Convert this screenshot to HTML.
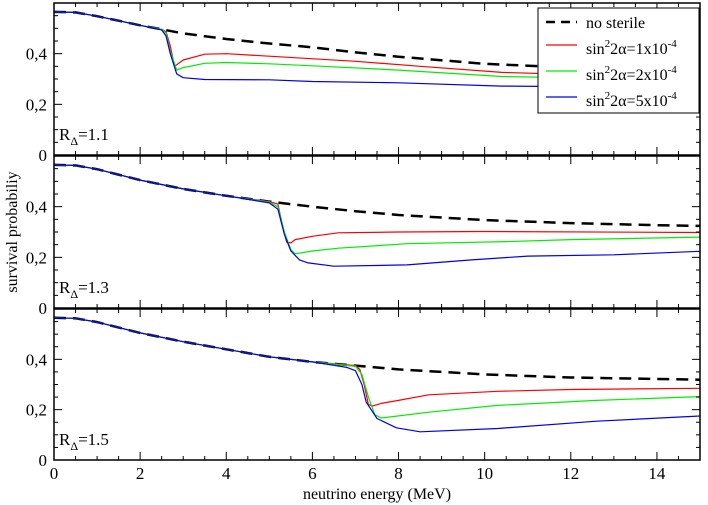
<!DOCTYPE html>
<html><head><meta charset="utf-8"><style>
body{margin:0;background:#fff}
svg text{font-family:"Liberation Serif","DejaVu Serif",serif !important;fill:#000}
</style></head><body>
<svg id="chart" width="708" height="505" xmlns="http://www.w3.org/2000/svg" style="position:absolute;left:0;top:0"></svg>
<script>
// ---------- data ----------
const xTicks = [0,2,4,6,8,10,12,14];
const yTicks = [0,0.2,0.4];
const yTickLabels = ["0","0,2","0,4"];
const panelLabels = ["1.1","1.3","1.5"];
const seriesNames = ["no sterile","sin2a-1e-4","sin2a-2e-4","sin2a-5e-4"];
const seriesColors = ["#000","#ff0000","#00ee00","#0000ee"];

const p1BlackE = [0,0.5,1,1.5,2,2.5,3,4,5,6,7,8,10,12,14,15];
const p1BlackV = [0.565,0.563,0.548,0.53,0.512,0.496,0.48,0.458,0.44,0.425,0.405,0.388,0.36,0.345,0.336,0.333];
const p1RedE = [0,0.5,1,1.5,2,2.5,2.6,2.7,2.8,3,3.5,4,5,7,8.5,10.4,12,15];
const p1RedV = [0.565,0.563,0.548,0.53,0.512,0.496,0.487,0.43,0.35,0.375,0.398,0.4,0.39,0.37,0.35,0.326,0.318,0.31];
const p1GreenE = [0,0.5,1,1.5,2,2.5,2.6,2.7,2.85,3,3.5,4,5,6,8,10.4,12,15];
const p1GreenV = [0.565,0.563,0.548,0.53,0.512,0.496,0.482,0.41,0.335,0.345,0.362,0.365,0.36,0.352,0.335,0.31,0.305,0.3];
const p1BlueE = [0,0.5,1,1.5,2,2.5,2.6,2.7,2.85,3,3.5,5,6,8,10.4,12,15];
const p1BlueV = [0.565,0.563,0.548,0.53,0.512,0.494,0.47,0.4,0.32,0.305,0.298,0.297,0.29,0.285,0.272,0.27,0.268];

const p2BlackE = [0,0.5,1,2,3,4,5,6,7,8,10,12,14,15];
const p2BlackV = [0.565,0.563,0.548,0.505,0.47,0.443,0.42,0.4,0.382,0.367,0.347,0.335,0.327,0.324];
const p2RedE = [0,0.5,1,2,3,4,5,5.2,5.3,5.4,5.5,5.6,6,6.6,8,10,15];
const p2RedV = [0.565,0.563,0.548,0.505,0.47,0.443,0.42,0.41,0.33,0.26,0.257,0.27,0.283,0.297,0.3,0.302,0.298];
const p2GreenE = [0,0.5,1,2,3,4,5,5.2,5.35,5.5,5.6,6,6.6,8.2,10.5,12,15];
const p2GreenV = [0.565,0.563,0.548,0.505,0.47,0.443,0.418,0.4,0.3,0.23,0.214,0.225,0.236,0.254,0.262,0.27,0.28];
const p2BlueE = [0,0.5,1,2,3,4,5,5.2,5.35,5.5,5.7,5.9,6.5,8.2,9.7,11,13,15];
const p2BlueV = [0.565,0.563,0.548,0.505,0.47,0.443,0.415,0.39,0.29,0.225,0.19,0.178,0.165,0.17,0.19,0.205,0.21,0.224];

const p3BlackE = [0,0.5,1,2,3,4,5,6,7,8,10,12,15];
const p3BlackV = [0.565,0.563,0.548,0.505,0.47,0.44,0.41,0.39,0.375,0.36,0.34,0.328,0.319];
const p3RedE = [0,0.5,1,2,3,4,5,6,7,7.1,7.2,7.3,7.4,7.6,8,8.7,10.3,12,15];
const p3RedV = [0.565,0.563,0.548,0.505,0.47,0.44,0.41,0.39,0.375,0.36,0.3,0.22,0.215,0.225,0.237,0.259,0.273,0.28,0.285];
const p3GreenE = [0,0.5,1,2,3,4,5,6,7,7.15,7.3,7.45,7.6,8.7,10.3,12.6,15];
const p3GreenV = [0.565,0.563,0.548,0.505,0.47,0.44,0.41,0.39,0.372,0.34,0.25,0.18,0.167,0.19,0.217,0.237,0.252];
const p3BlueE = [0,0.5,1,2,3,4,5,6,6.8,7,7.15,7.25,7.5,7.95,8.5,10.3,12.6,15];
const p3BlueV = [0.565,0.563,0.548,0.505,0.47,0.44,0.41,0.39,0.368,0.355,0.3,0.23,0.165,0.128,0.112,0.125,0.154,0.175];

const panelData = [
  [[p1BlackE,p1BlackV],[p1RedE,p1RedV],[p1GreenE,p1GreenV],[p1BlueE,p1BlueV]],
  [[p2BlackE,p2BlackV],[p2RedE,p2RedV],[p2GreenE,p2GreenV],[p2BlueE,p2BlueV]],
  [[p3BlackE,p3BlackV],[p3RedE,p3RedV],[p3GreenE,p3GreenV],[p3BlueE,p3BlueV]]
];

// ---------- drawing ----------
const NS="http://www.w3.org/2000/svg";
const FONT='Liberation Serif, DejaVu Serif, serif';
const svg=document.getElementById('chart');
function mk(tag,attrs,parent){const e=document.createElementNS(NS,tag);for(const k in attrs)e.setAttribute(k,attrs[k]);(parent||svg).appendChild(e);return e;}
const X0=54,X1=700,XMAX=15,YMAX=0.6;
const panels=[[3,155],[156,308],[309,460]];
const xs=v=>X0+(X1-X0)*v/XMAX;

panels.forEach((pb,pi)=>{
  const [top,bot]=pb;
  const ys=v=>bot-(bot-top)*v/YMAX;
  const g=mk('g',{});
  
  
  panelData[pi].forEach((s,si)=>{
    const pts=s[0].map((e,i)=>xs(e).toFixed(1)+','+ys(s[1][i]).toFixed(1)).join(' ');
    const attrs={points:pts,fill:'none',stroke:seriesColors[si],'stroke-width':si===0?2.5:1.2,'stroke-linejoin':'round'};
    if(si===0)attrs['stroke-dasharray']='12,7';
    const pl=mk('polyline',attrs,g);
    
    
  });
  const fr=mk('rect',{x:X0,y:top,width:X1-X0,height:bot-top,fill:'none',stroke:'#000','stroke-width':1.5},g);
  
  
  for(let v=0;v<=XMAX+1e-9;v+=0.5){
    const maj=Math.abs(v/2-Math.round(v/2))<1e-9, L=maj?8:4, x=xs(v);
    mk('line',{x1:x,x2:x,y1:bot,y2:bot-L,stroke:'#000','stroke-width':1},g);
    mk('line',{x1:x,x2:x,y1:top,y2:top+L,stroke:'#000','stroke-width':1},g);
  }
  for(let k=0;k*0.05<=YMAX-0.01;k++){
    const v=k*0.05, maj=k%4===0, L=maj?8:4, y=ys(v);
    mk('line',{x1:X0,x2:X0+L,y1:y,y2:y,stroke:'#000','stroke-width':1},g);
    mk('line',{x1:X1,x2:X1-L,y1:y,y2:y,stroke:'#000','stroke-width':1},g);
  }
  yTicks.forEach((v,i)=>{
    const t=mk('text',{x:47,y:ys(v)+6,'text-anchor':'end','font-size':17,'font-family':FONT},g);
    t.textContent=yTickLabels[i];
    
    
  });
  const lab=mk('text',{x:59,y:bot-15,'font-size':17,'font-family':FONT},g);
  
  
  lab.innerHTML='R<tspan dy="5" font-size="12">Δ</tspan><tspan dy="-5">='+panelLabels[pi]+'</tspan>';
});
xTicks.forEach(v=>{
  const t=mk('text',{x:xs(v),y:479,'text-anchor':'middle','font-size':17,'font-family':FONT});
  t.textContent=v;
  
  
});
</script>
<svg style="position:absolute;left:0;top:0" width="708" height="505" xmlns="http://www.w3.org/2000/svg" font-family="Liberation Serif, DejaVu Serif, serif">
<text x="377" y="499" text-anchor="middle" font-size="16">neutrino energy (MeV)</text>
<text x="0" y="0" transform="translate(17,232) rotate(-90)" text-anchor="middle" font-size="16">survival probabiliy</text>
<g>
<rect x="538" y="8" width="161" height="105" fill="#fff" stroke="#000" stroke-width="1"/>
<line x1="546" y1="22" x2="577" y2="22" stroke="#000" stroke-width="2.5" stroke-dasharray="9,6"/>
<text x="586" y="28" font-size="16">no sterile</text>
<line x1="546" y1="45" x2="577" y2="45" stroke="#ff0000" stroke-width="1.2"/>
<text x="586" y="54" font-size="16">sin<tspan dy="-7" font-size="11">2</tspan><tspan dy="7">2α=1x10</tspan><tspan dy="-7" font-size="11">-4</tspan></text>
<line x1="546" y1="71" x2="577" y2="71" stroke="#00ee00" stroke-width="1.2"/>
<text x="586" y="80" font-size="16">sin<tspan dy="-7" font-size="11">2</tspan><tspan dy="7">2α=2x10</tspan><tspan dy="-7" font-size="11">-4</tspan></text>
<line x1="546" y1="97" x2="577" y2="97" stroke="#0000ee" stroke-width="1.2"/>
<text x="586" y="106" font-size="16">sin<tspan dy="-7" font-size="11">2</tspan><tspan dy="7">2α=5x10</tspan><tspan dy="-7" font-size="11">-4</tspan></text>
</g>
</svg>
</body></html>
